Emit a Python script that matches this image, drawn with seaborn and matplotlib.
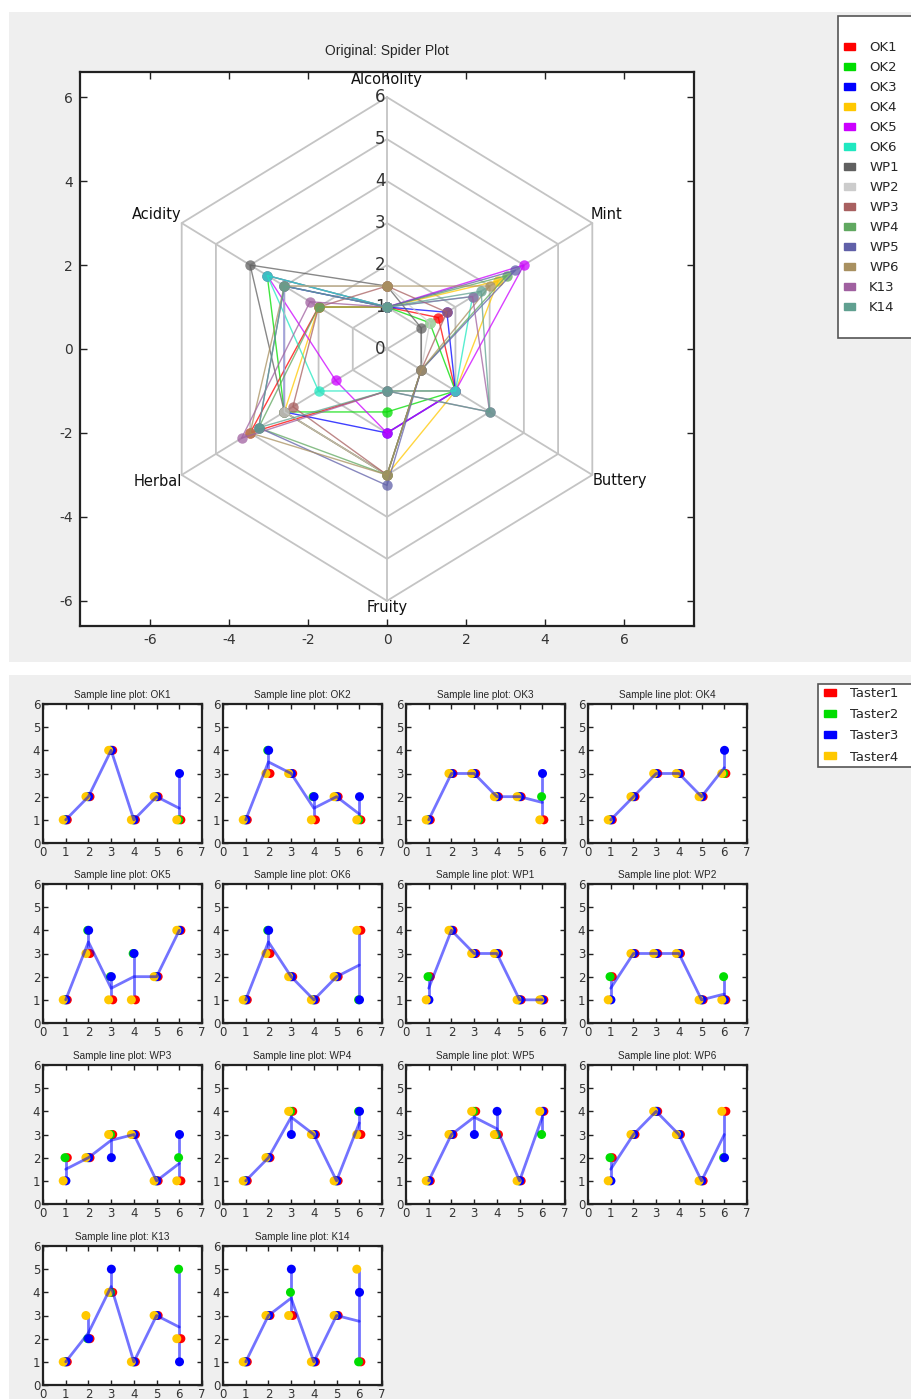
import numpy as np
import pandas as pd
import matplotlib
matplotlib.use("Agg")
import matplotlib.pyplot as plt
from matplotlib.patches import Rectangle, Patch
import seaborn as sns

# ---------------- data ----------------
samples = ["OK1", "OK2", "OK3", "OK4", "OK5", "OK6", "WP1", "WP2",
           "WP3", "WP4", "WP5", "WP6", "K13", "K14"]
attributes = ["Alcoholity", "Acidity", "Herbal", "Fruity", "Buttery", "Mint"]
tasters = ["Taster1", "Taster2", "Taster3", "Taster4"]

# one row per taster, one column per attribute (1..6)
ok1 = [[1, 2, 4, 1, 2, 1], [1, 2, 4, 1, 2, 1], [1, 2, 4, 1, 2, 3], [1, 2, 4, 1, 2, 1]]
ok2 = [[1, 3, 3, 1, 2, 1], [1, 4, 3, 2, 2, 1], [1, 4, 3, 2, 2, 2], [1, 3, 3, 1, 2, 1]]
ok3 = [[1, 3, 3, 2, 2, 1], [1, 3, 3, 2, 2, 2], [1, 3, 3, 2, 2, 3], [1, 3, 3, 2, 2, 1]]
ok4 = [[1, 2, 3, 3, 2, 3], [1, 2, 3, 3, 2, 3], [1, 2, 3, 3, 2, 4], [1, 2, 3, 3, 2, 3]]
ok5 = [[1, 3, 1, 1, 2, 4], [1, 4, 2, 3, 2, 4], [1, 4, 2, 3, 2, 4], [1, 3, 1, 1, 2, 4]]
ok6 = [[1, 3, 2, 1, 2, 4], [1, 4, 2, 1, 2, 1], [1, 4, 2, 1, 2, 1], [1, 3, 2, 1, 2, 4]]
wp1 = [[2, 4, 3, 3, 1, 1], [2, 4, 3, 3, 1, 1], [1, 4, 3, 3, 1, 1], [1, 4, 3, 3, 1, 1]]
wp2 = [[2, 3, 3, 3, 1, 1], [2, 3, 3, 3, 1, 2], [1, 3, 3, 3, 1, 1], [1, 3, 3, 3, 1, 1]]
wp3 = [[2, 2, 3, 3, 1, 1], [2, 2, 3, 3, 1, 2], [1, 2, 2, 3, 1, 3], [1, 2, 3, 3, 1, 1]]
wp4 = [[1, 2, 4, 3, 1, 3], [1, 2, 4, 3, 1, 4], [1, 2, 3, 3, 1, 4], [1, 2, 4, 3, 1, 3]]
wp5 = [[1, 3, 4, 3, 1, 4], [1, 3, 4, 3, 1, 3], [1, 3, 3, 4, 1, 4], [1, 3, 4, 3, 1, 4]]
wp6 = [[2, 3, 4, 3, 1, 4], [2, 3, 4, 3, 1, 2], [1, 3, 4, 3, 1, 2], [1, 3, 4, 3, 1, 4]]
k13 = [[1, 2, 4, 1, 3, 2], [1, 2, 4, 1, 3, 5], [1, 2, 5, 1, 3, 1], [1, 3, 4, 1, 3, 2]]
k14 = [[1, 3, 3, 1, 3, 1], [1, 3, 4, 1, 3, 1], [1, 3, 5, 1, 3, 4], [1, 3, 3, 1, 3, 5]]
scores = [ok1, ok2, ok3, ok4, ok5, ok6, wp1, wp2, wp3, wp4, wp5, wp6, k13, k14]

sample_colors = ["#ff0000", "#00dd00", "#0000ff", "#ffc800", "#cc00ff", "#20e8c0",
                 "#606060", "#cccccc", "#a86060", "#60a860", "#6060a8", "#a89060",
                 "#a060a0", "#60a090"]
taster_colors = ["#ff0000", "#00dd00", "#0000ff", "#ffc800"]
taster_shift = [0.07, -0.03, 0.01, -0.11]

rows = []
for s, tab in zip(samples, scores):
    for t, vals in zip(tasters, tab):
        for i, v in enumerate(vals):
            rows.append({"sample": s, "taster": t, "attr": i + 1, "score": v})
df = pd.DataFrame(rows)

# ---------------- style ----------------
sns.set_style("ticks")
plt.rcParams.update({
    "xtick.direction": "in", "ytick.direction": "in",
    "xtick.top": True, "ytick.right": True,
    "axes.edgecolor": "#222222", "axes.linewidth": 1.6,
    "xtick.color": "#222222", "ytick.color": "#222222",
    "xtick.labelcolor": "#333333", "ytick.labelcolor": "#333333",
    "axes.unicode_minus": False,
})
plt.rcParams["font.family"] = ["DejaVu Sans"]

W, H = 911, 1399
fig = plt.figure(figsize=(W / 100, H / 100), dpi=100, facecolor="white")


def box(l, t, r, b):
    return [l / W, 1 - b / H, (r - l) / W, (b - t) / H]


def rect(l, t, r, b, **kw):
    fig.add_artist(Rectangle((l / W, 1 - b / H), (r - l) / W, (b - t) / H,
                             transform=fig.transFigure, **kw))


# gray panels
rect(9, 12, 911, 662, facecolor="#efefef", edgecolor="none", zorder=-10)
rect(9, 675, 911, 1399, facecolor="#efefef", edgecolor="none", zorder=-10)

# ---------------- spider plot ----------------
ax = fig.add_axes(box(80, 72, 694, 626))
ax.set_facecolor("white")
angles = np.deg2rad(90 + 60 * np.arange(len(attributes)))
hexa = np.append(angles, angles[0])

for r in range(1, 7):
    ax.plot(r * np.cos(hexa), r * np.sin(hexa), color="#c4c4c4", lw=1.3, zorder=1)
for a in angles:
    ax.plot([0, 6 * np.cos(a)], [0, 6 * np.sin(a)], color="#c4c4c4", lw=1.3, zorder=1)
for r in range(0, 7):
    ax.text(-0.17, r, str(r), ha="center", va="center", fontsize=12,
            color="#333333", zorder=2)

label_align = [("center", "bottom"), ("right", "bottom"), ("right", "top"),
               ("center", "top"), ("left", "top"), ("left", "bottom")]
label_off = [(0, 0.25), (0, 0.02), (0, 0.02), (0, 0.02), (0, 0.04), (-0.05, 0.02)]
for name, a, (ha, va), (dx, dy) in zip(attributes, angles, label_align, label_off):
    ax.text(6 * np.cos(a) + dx, 6 * np.sin(a) + dy, name, ha=ha, va=va,
            fontsize=10.5, color="#111111", zorder=2)

means = df.groupby(["sample", "attr"], sort=False)["score"].mean().reset_index()
spider = []
for s in samples:
    m = means[means["sample"] == s].sort_values("attr")["score"].to_numpy()
    m = np.append(m, m[0])
    for k, v in enumerate(m):
        spider.append({"sample": s, "px": v * np.cos(hexa[k]), "py": v * np.sin(hexa[k]),
                       "order": k})
spider = pd.DataFrame(spider)

sns.lineplot(data=spider, x="px", y="py", hue="sample", hue_order=samples,
             palette=dict(zip(samples, sample_colors)), sort=False, estimator=None,
             marker="o", markersize=7.5, markeredgewidth=0, lw=1.0, alpha=0.75,
             legend=False, ax=ax, zorder=3)

ax.set_xlim(-7.77, 7.77)
ax.set_ylim(-6.6, 6.6)
ax.set_xticks(range(-6, 7, 2))
ax.set_yticks(range(-6, 7, 2))
ax.tick_params(labelsize=10, length=5, width=1, pad=5)
ax.set_xlabel("")
ax.set_ylabel("")
ax.set_title("Original: Spider Plot", fontsize=10, family="Liberation Sans", pad=12)

rect(838, 16, 915, 338, facecolor="white", edgecolor="#555555", lw=1.2, zorder=4)
fig.legend(handles=[Patch(facecolor=c, edgecolor=c, label=s)
                    for s, c in zip(samples, sample_colors)],
           loc="upper left", bbox_to_anchor=(844 / W, 1 - 41 / H), frameon=False,
           fontsize=9.5, handlelength=0.8, handleheight=0.45, handletextpad=1.1,
           labelspacing=0.53, borderpad=0, borderaxespad=0)

# ---------------- small line plots ----------------
col_left = [43, 223, 406, 588]
row_top = [704, 884, 1065, 1246]
for n, s in enumerate(samples):
    l = col_left[n % 4]
    t = row_top[n // 4]
    a2 = fig.add_axes(box(l, t, l + 159, t + 139))
    a2.set_facecolor("white")
    sub = df[df["sample"] == s].copy()
    sub["xpos"] = sub["attr"] + sub["taster"].map(dict(zip(tasters, taster_shift)))
    sns.scatterplot(data=sub, x="xpos", y="score", hue="taster", hue_order=tasters,
                    palette=dict(zip(tasters, taster_colors)), s=42, linewidth=0,
                    legend=False, ax=a2, zorder=3)
    sns.lineplot(data=sub, x="attr", y="score", estimator="mean",
                 errorbar=("pi", 100), err_style="bars", color="#0000ff",
                 alpha=0.55, lw=2, err_kws={"elinewidth": 2}, ax=a2, zorder=4)
    a2.set_xlim(0, 7)
    a2.set_ylim(0, 6)
    a2.set_xticks(range(0, 8))
    a2.set_yticks(range(0, 7))
    a2.tick_params(labelsize=8.5, length=3.5, width=1, pad=2)
    a2.set_xlabel("")
    a2.set_ylabel("")
    a2.set_title("Sample line plot: " + s, fontsize=7.2, family="Liberation Sans", pad=4)

rect(818, 684, 915, 767, facecolor="white", edgecolor="#555555", lw=1.2, zorder=4)
fig.legend(handles=[Patch(facecolor=c, edgecolor=c, label=t)
                    for t, c in zip(tasters, taster_colors)],
           loc="upper left", bbox_to_anchor=(824 / W, 1 - 687 / H), frameon=False,
           fontsize=9.5, handlelength=0.9, handleheight=0.45, handletextpad=1.1,
           labelspacing=0.62, borderpad=0, borderaxespad=0)

fig.savefig("out.png", dpi=100, facecolor="white")
